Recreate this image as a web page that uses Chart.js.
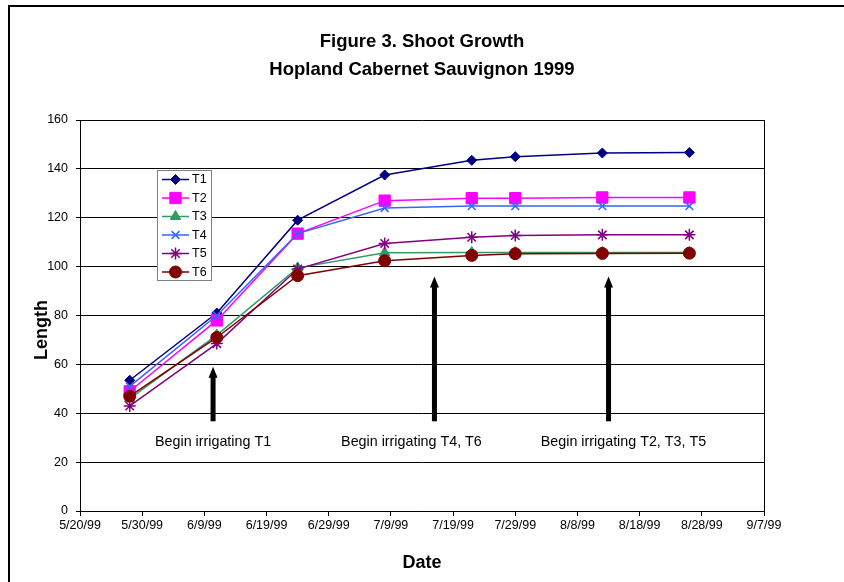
<!DOCTYPE html>
<html>
<head>
<meta charset="utf-8">
<title>Shoot Growth</title>
<script src="https://cdn.jsdelivr.net/npm/chart.js@4/dist/chart.umd.min.js"></script>
<style>
  body { margin: 0; background: #fff; }
  #wrap { width: 844px; height: 582px; position: relative; }
</style>
</head>
<body>
<div id="wrap"><canvas id="shootChart"></canvas></div>
<script>
// sampling dates and shoot length per treatment
const sampleDates = ['5/28/99', '6/11/99', '6/24/99', '7/8/99', '7/22/99', '7/29/99', '8/12/99', '8/26/99'];
const seriesNames = ['T1', 'T2', 'T3', 'T4', 'T5', 'T6'];
const t1 = [53.5, 81, 119, 137.5, 143.5, 145, 146.5, 146.7];
const t2 = [49, 78, 113.5, 127, 128, 128, 128.3, 128.3];
const t3 = [46, 72, 99.5, 105.7, 105.8, 105.8, 105.8, 105.8];
const t4 = [51, 80, 113.5, 124, 124.8, 124.8, 124.8, 124.8];
const t5 = [43, 68.5, 99, 109.5, 112, 112.7, 113, 113];
const t6 = [47, 71, 96.3, 102.4, 104.6, 105.3, 105.4, 105.5];

// axis range
const axisStart = '5/20/99';
const axisEnd = '9/7/99';
const yTickStep = 20;
const yMax = 160;

// irrigation arrows and notes
const arrowDates = ['6/10.4/99', '7/16/99', '8/13/99'];
const arrowTops = [59, 96, 96];
const arrowBase = 36.7;
const noteTexts = ['Begin irrigating T1', 'Begin irrigating T4, T6', 'Begin irrigating T2, T3, T5'];
const noteDates = ['6/10.4/99', '7/12.3/99', '8/15.4/99'];
const noteValue = 28.2;

const seriesValues = [t1, t2, t3, t4, t5, t6];
const seriesColors = ['#000080', '#FF00FF', '#339966', '#3366FF', '#800080', '#800000'];
const seriesMarkers = ['rectRot', 'rect', 'triangle', 'crossRot', 'star', 'circle'];
const markerSizes = [5, 8, 6, 5.5, 6, 6];

const FONT = "'Liberation Sans', Arial, sans-serif";
Chart.defaults.font.family = FONT;
Chart.defaults.color = '#000';

const startMs = Date.UTC(1999, 4, 20);
function toDay(s) {
  const [m, d, y] = s.split('/');
  return (Date.UTC(1900 + Number(y), Number(m) - 1, 1) - startMs) / 864e5 + parseFloat(d) - 1;
}
function dayLabel(v) {
  const d = new Date(startMs + Math.round(v) * 864e5);
  return (d.getUTCMonth() + 1) + '/' + d.getUTCDate() + '/' + String(d.getUTCFullYear()).slice(2);
}

const datasets = seriesNames.map((name, i) => ({
  label: name,
  data: sampleDates.map((d, j) => ({ x: toDay(d), y: seriesValues[i][j] })),
  borderColor: seriesColors[i],
  backgroundColor: seriesColors[i],
  pointBackgroundColor: seriesColors[i],
  pointBorderColor: seriesColors[i],
  pointStyle: seriesMarkers[i],
  pointRadius: markerSizes[i],
  pointBorderWidth: (seriesMarkers[i] === 'crossRot' || seriesMarkers[i] === 'star') ? 1.5 : 1,
  borderWidth: 1.5,
  tension: 0,
  fill: false,
  order: seriesNames.length - i
}));

// frame, arrows, notes, y title and the boxed legend
const extras = {
  id: 'extras',
  beforeDraw(chart) {
    const { ctx } = chart;
    ctx.save();
    ctx.fillStyle = '#fff';
    ctx.fillRect(0, 0, chart.width, chart.height);
    ctx.restore();
  },
  afterDraw(chart) {
    const { ctx, chartArea: a, scales: { x, y } } = chart;
    ctx.save();

    // outer frame (top + left)
    ctx.strokeStyle = '#000';
    ctx.lineWidth = 2;
    ctx.beginPath();
    ctx.moveTo(9, chart.height);
    ctx.lineTo(9, 6);
    ctx.lineTo(chart.width, 6);
    ctx.stroke();

    // right edge of plot area
    ctx.lineWidth = 1;
    ctx.beginPath();
    ctx.moveTo(Math.round(a.right) + 0.5, a.top);
    ctx.lineTo(Math.round(a.right) + 0.5, a.bottom);
    ctx.stroke();

    // arrows
    ctx.fillStyle = '#000';
    arrowDates.forEach((d, i) => {
      const px = x.getPixelForValue(toDay(d));
      const yb = y.getPixelForValue(arrowBase);
      const yt = y.getPixelForValue(arrowTops[i]);
      ctx.fillRect(px - 2.5, yt + 9, 5, yb - yt - 9);
      ctx.beginPath();
      ctx.moveTo(px, yt);
      ctx.lineTo(px + 4.5, yt + 11);
      ctx.lineTo(px - 4.5, yt + 11);
      ctx.closePath();
      ctx.fill();
    });

    // notes
    ctx.font = '14.3px ' + FONT;
    ctx.textAlign = 'center';
    ctx.textBaseline = 'middle';
    noteTexts.forEach((t, i) => {
      ctx.fillText(t, x.getPixelForValue(toDay(noteDates[i])), y.getPixelForValue(noteValue));
    });

    // y axis title
    ctx.save();
    ctx.translate(42, 330);
    ctx.rotate(-Math.PI / 2);
    ctx.font = 'bold 18px ' + FONT;
    ctx.fillText('Length', 0, 0);
    ctx.restore();

    // legend box
    const lx = 157.5, ly = 170.5, lw = 54, lh = 110;
    ctx.fillStyle = '#fff';
    ctx.fillRect(lx, ly, lw, lh);
    ctx.strokeStyle = '#808080';
    ctx.lineWidth = 1;
    ctx.strokeRect(lx, ly, lw, lh);
    chart.data.datasets.forEach((ds, i) => {
      const cy = 179.5 + i * 18.5;
      ctx.strokeStyle = ds.borderColor;
      ctx.lineWidth = ds.borderWidth;
      ctx.beginPath();
      ctx.moveTo(162, cy);
      ctx.lineTo(189, cy);
      ctx.stroke();
      ctx.fillStyle = ds.pointBackgroundColor;
      ctx.lineWidth = ds.pointBorderWidth;
      Chart.helpers.drawPoint(ctx, {
        pointStyle: ds.pointStyle, radius: ds.pointRadius, rotation: 0, borderWidth: ds.pointBorderWidth
      }, 175.5, cy);
      ctx.fillStyle = '#000';
      ctx.font = '12.5px ' + FONT;
      ctx.textAlign = 'left';
      ctx.textBaseline = 'middle';
      ctx.fillText(ds.label, 192, cy + 0.5);
    });

    ctx.restore();
  }
};

new Chart(document.getElementById('shootChart'), {
  type: 'line',
  data: { datasets },
  options: {
    responsive: true,
    maintainAspectRatio: false,
    animation: false,
    layout: { padding: 0 },
    plugins: {
      legend: { display: false },
      tooltip: { enabled: false },
      title: {
        display: true,
        text: ['Figure 3. Shoot Growth', 'Hopland Cabernet Sauvignon 1999'],
        font: { size: 18.5, weight: 'bold', lineHeight: 1.5 },
        color: '#000',
        padding: { top: 28, bottom: 36.5 }
      }
    },
    scales: {
      x: {
        type: 'linear',
        min: toDay(axisStart),
        max: toDay(axisEnd),
        ticks: { stepSize: 10, callback: v => dayLabel(v), font: { size: 12.5 }, padding: 2, maxRotation: 0, autoSkip: false },
        grid: { drawOnChartArea: false, drawTicks: true, tickLength: 5, color: '#000' },
        border: { color: '#000', width: 1 },
        title: { display: true, text: 'Date', font: { size: 18, weight: 'bold' }, padding: { top: 0, bottom: 8 } },
        afterFit: s => { s.height = 71; }
      },
      y: {
        min: 0,
        max: yMax,
        ticks: { stepSize: yTickStep, font: { size: 12.5 }, padding: 8 },
        grid: { color: '#000', tickLength: 4, lineWidth: 1 },
        border: { color: '#000', width: 1 },
        afterFit: s => { s.width = 80; }
      },
      // empty right-hand margin so the title centres on the whole page
      yRight: {
        position: 'right',
        min: 0,
        max: yMax,
        grid: { display: false },
        border: { display: false },
        ticks: { display: false },
        afterFit: s => { s.width = 80; }
      }
    }
  },
  plugins: [extras]
});
</script>
</body>
</html>
